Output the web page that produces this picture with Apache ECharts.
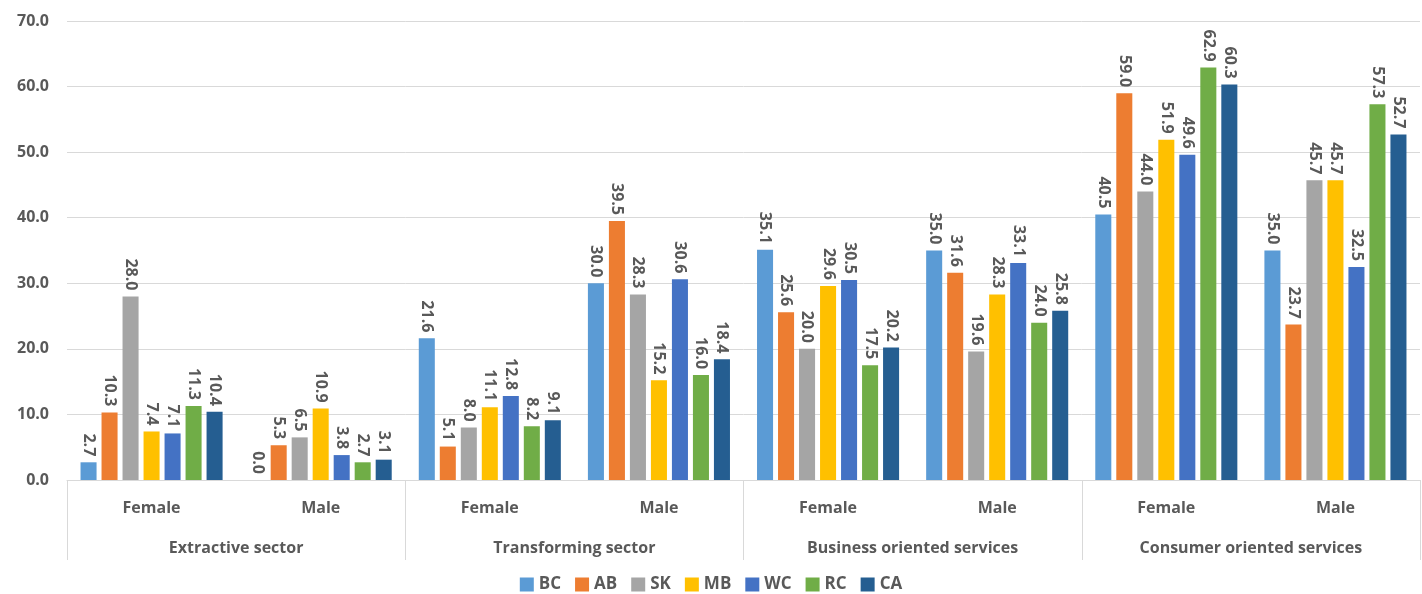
<!DOCTYPE html>
<html><head><meta charset="utf-8">
<script src="https://cdn.jsdelivr.net/npm/echarts@6/dist/echarts.min.js"></script>
<style>html,body{margin:0;padding:0;background:#fff}#c{width:1422px;height:594px}</style>
</head><body><div id="c"></div>
<script>
const genders = ['Female','Male','Female','Male','Female','Male','Female','Male'];
const sectors = ['Extractive sector','Transforming sector','Business oriented services','Consumer oriented services'];
const seriesNames = ['BC','AB','SK','MB','WC','RC','CA'];
const BC = [2.7, 0.0, 21.6, 30.0, 35.1, 35.0, 40.5, 35.0];
const AB = [10.3, 5.3, 5.1, 39.5, 25.6, 31.6, 59.0, 23.7];
const SK = [28.0, 6.5, 8.0, 28.3, 20.0, 19.6, 44.0, 45.7];
const MB = [7.4, 10.9, 11.1, 15.2, 29.6, 28.3, 51.9, 45.7];
const WC = [7.1, 3.8, 12.8, 30.6, 30.5, 33.1, 49.6, 32.5];
const RC = [11.3, 2.7, 8.2, 16.0, 17.5, 24.0, 62.9, 57.3];
const CA = [10.4, 3.1, 9.1, 18.4, 20.2, 25.8, 60.3, 52.7];
const values = [BC, AB, SK, MB, WC, RC, CA];
const colors = ['#5B9BD5','#ED7D31','#A5A5A5','#FFC000','#4472C4','#70AD47','#255E91'];
const txt = '#595959';
const font = '"Open Sans", "Liberation Sans", sans-serif';

const chart = echarts.init(document.getElementById('c'), null, {renderer:'canvas'});
chart.setOption({
  animation:false,
  color: colors,
  textStyle:{fontFamily:font},
  grid:{left:67, right:2, top:21, bottom:114, containLabel:false},
  legend:{
    bottom:-4, left:'center', icon:'rect', itemWidth:14, itemHeight:14, itemGap:14,
    textStyle:{color:txt, fontSize:17, fontWeight:'bold', fontFamily:font},
    data: seriesNames
  },
  xAxis:[{
    type:'category', data: genders, position:'bottom',
    axisLine:{lineStyle:{color:'#d9d9d9'}},
    axisTick:{show:false},
    axisLabel:{color:txt, fontSize:16, fontWeight:'bold', margin:20, fontFamily:font}
  },{
    type:'category', data: sectors, position:'bottom',
    axisLine:{show:false},
    axisTick:{show:true, length:80, lineStyle:{color:'#d9d9d9'}},
    axisLabel:{color:txt, fontSize:16, fontWeight:'bold', margin:60, fontFamily:font}
  }],
  yAxis:{
    type:'value', min:0, max:70, interval:10,
    axisLine:{show:false}, axisTick:{show:false},
    splitLine:{lineStyle:{color:'#d9d9d9'}},
    axisLabel:{color:txt, fontSize:16, fontWeight:'bold', margin:18, formatter:v=>v.toFixed(1), fontFamily:font}
  },
  series: seriesNames.map((n,i)=>({
    name:n, type:'bar', xAxisIndex:0, data: values[i],
    barGap:'31%', barCategoryGap:'16%',
    label:{show:true, position:'top', rotate:-90, align:'right', verticalAlign:'middle', distance:6,
      color:txt, fontSize:16, fontWeight:'bold', fontFamily:font, formatter:p=>p.value.toFixed(1)}
  }))
});
</script></body></html>
